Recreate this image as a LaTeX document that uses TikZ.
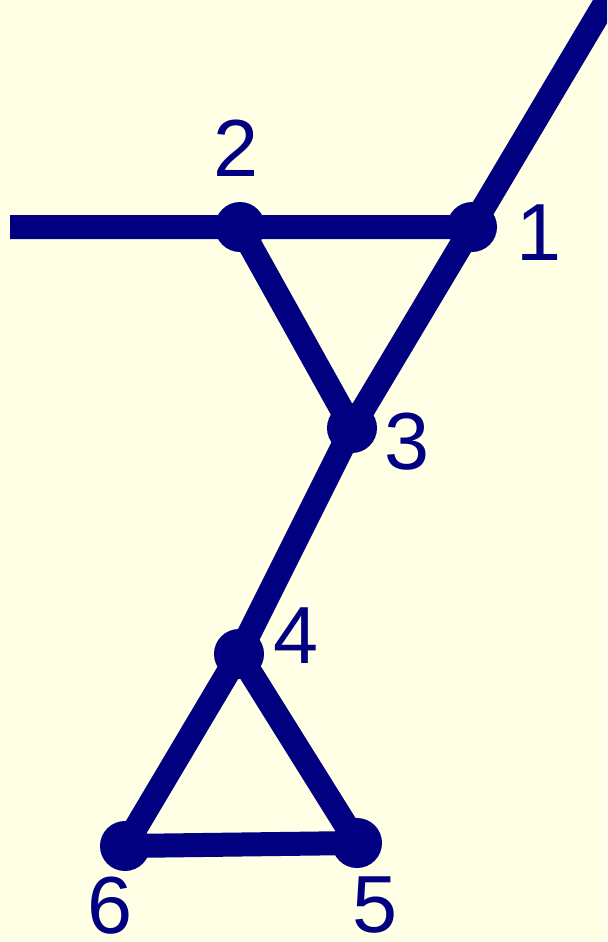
\documentclass[tikz,border=0pt]{standalone}
\usepackage{fontspec}
\setmainfont{Liberation Sans}
\definecolor{paper}{RGB}{255,255,230}
\definecolor{ink}{RGB}{0,0,128}
\tikzset{
  dot/.style={circle, fill=ink, inner sep=0pt, minimum size=1.25cm},
  num/.style={text=ink, inner sep=0pt, font=\fontsize{57.6}{60}\selectfont},
  bar/.style={draw=ink, line width=0.6cm}
}
\begin{document}
\begin{tikzpicture}[x=0.025cm, y=-0.025cm]
    \fill[paper] (0, 0) rectangle (607, 942);
    \useasboundingbox (0, 0) rectangle (607, 942);
    \clip (0, 0) rectangle (607, 942);
    % vertices
    \node[dot] (n1) at (472, 227) {};
    \node[dot] (n2) at (240, 227) {};
    \node[dot] (n3) at (352, 428) {};
    \node[dot] (n4) at (239, 654) {};
    \node[dot] (n5) at (357, 843) {};
    \node[dot] (n6) at (125, 846) {};
    \coordinate (west) at (10, 227);
    \coordinate (top) at (614, -12);
    % edges
    \draw[bar] (west) -- (n2.center) -- (n1.center) -- (top);
    \draw[bar] (n2.center) -- (n3.center) -- (n1.center);
    \draw[bar] (n3.center) -- (n4.center);
    \draw[bar] (n4.center) -- (n5.center) -- (n6.center) -- cycle;
    % labels
    \node[num] (l1) at (539, 233) {1};
    \node[num] (l2) at (236, 148) {2};
    \node[num] (l3) at (407, 442) {3};
    \node[num] (l4) at (296, 636) {4};
    \node[num] (l5) at (375, 905) {5};
    \node[num] (l6) at (110, 906) {6};
\end{tikzpicture}
\end{document}
